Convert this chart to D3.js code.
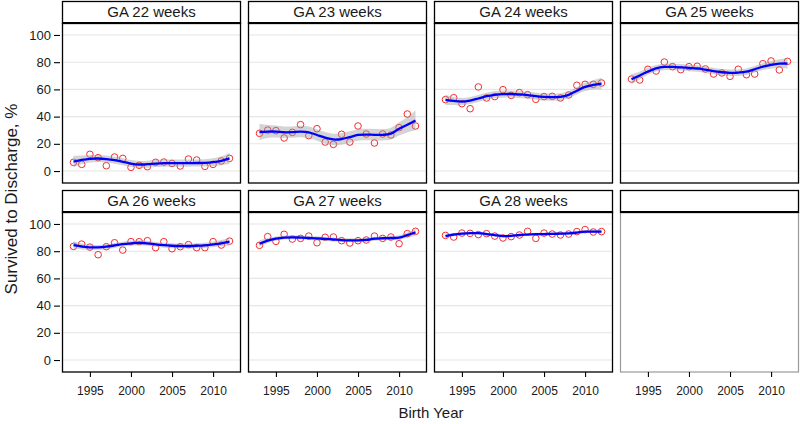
<!DOCTYPE html>
<html>
<head>
<meta charset="utf-8">
<script src="https://cdn.jsdelivr.net/npm/d3@7"></script>
<style>
  html, body { margin: 0; padding: 0; background: #fff; }
  svg { display: block; font-family: "Liberation Sans", Arial, Helvetica, sans-serif; }
</style>
</head>
<body>
<svg id="chart" width="800" height="424"></svg>
<script>
// ---------------- data ----------------
const years = [1993,1994,1995,1996,1997,1998,1999,2000,2001,2002,2003,2004,2005,2006,2007,2008,2009,2010,2011,2012];
const panels = ["GA 22 weeks","GA 23 weeks","GA 24 weeks","GA 25 weeks","GA 26 weeks","GA 27 weeks","GA 28 weeks"];
const yTicks = [0, 20, 40, 60, 80, 100];
const xTicks = [1995, 2000, 2005, 2010];
const xLabel = "Birth Year";
const yLabel = "Survived to Discharge, %";

// observed survival (%)
const obs22 = [6.4,4.9,12.3,9.8,3.9,10.3,9.3,2.7,4.2,3.2,6.4,6.6,5.6,3.7,8.8,8.1,3.4,4.9,7.4,9.3];
const obs23 = [27.7,30.1,29.7,24.3,28.4,34.1,26.0,31.1,21.3,19.6,27.0,21.3,33.1,27.2,20.6,27.2,26.5,31.9,41.9,33.1];
const obs24 = [52.5,53.9,49.5,45.8,61.8,53.7,54.7,59.8,55.6,57.6,56.1,52.7,54.7,54.9,53.7,55.9,63.0,63.7,63.7,64.7];
const obs25 = [67.6,66.9,74.8,73.5,80.1,76.7,74.5,76.7,77.0,75.0,71.3,72.1,69.6,74.8,70.8,71.3,78.9,80.9,74.3,80.6];
const obs26 = [83.5,85.2,83.0,77.4,83.3,86.2,80.8,87.0,87.0,87.7,82.6,87.0,81.8,83.3,84.8,82.6,82.6,87.0,84.5,87.4];
const obs27 = [84.3,90.7,87.2,92.4,88.9,89.4,91.1,86.2,90.2,90.4,87.7,86.0,87.7,88.2,91.1,89.4,90.4,85.5,92.9,94.6];
const obs28 = [91.6,90.4,93.3,93.1,92.2,92.9,91.1,89.7,90.7,91.9,94.6,89.4,93.3,92.6,91.9,92.6,94.4,95.9,94.1,94.4];

// smoothed fit (%)
const fit22 = [7.0,8.2,9.0,9.2,8.8,8.0,6.8,5.5,4.8,5.0,5.5,5.8,5.8,5.8,5.8,5.9,6.0,6.5,7.5,9.3];
const fit23 = [28.7,29.0,29.0,28.5,28.6,29.0,28.5,26.5,24.5,23.2,23.5,25.0,26.5,26.8,26.6,26.6,27.5,31.0,34.0,37.2];
const fit24 = [52.3,51.5,51.0,51.8,53.3,55.0,56.0,56.5,56.6,56.3,55.8,55.0,54.5,54.3,54.5,56.0,59.0,61.8,63.3,64.3];
const fit25 = [67.4,70.2,73.2,75.5,76.5,76.5,76.2,75.8,75.4,74.5,73.5,72.6,72.2,72.3,73.0,74.8,76.7,78.0,78.9,79.0];
const fit26 = [84.5,83.5,82.8,82.8,83.3,84.2,85.2,85.8,86.2,85.8,85.0,84.4,84.0,83.8,83.8,84.0,84.3,85.0,85.8,87.0];
const fit27 = [85.5,87.8,89.2,90.0,90.2,90.0,89.7,89.4,89.0,88.6,88.2,88.0,87.9,88.3,89.2,89.5,89.7,89.9,91.8,93.8];
const fit28 = [91.1,92.2,92.9,93.3,93.2,92.6,91.8,91.1,91.2,91.9,92.2,92.5,92.6,92.7,92.9,93.1,93.7,94.4,94.4,94.4];

// confidence band half-width (%)
const se22 = [4.2,3.2,2.8,2.6,2.6,2.6,2.6,2.6,2.6,2.6,2.6,2.6,2.6,2.6,2.6,2.6,2.6,2.8,3.2,4.2];
const se23 = [6.0,4.8,4.4,4.2,4.2,4.2,4.2,4.2,4.2,4.2,4.2,4.2,4.2,4.2,4.2,4.2,4.4,4.8,5.6,7.2];
const se24 = [3.8,3.0,2.7,2.6,2.6,2.6,2.6,2.6,2.6,2.6,2.6,2.6,2.6,2.6,2.6,2.6,2.7,3.0,3.4,4.2];
const se25 = [3.6,2.9,2.5,2.4,2.4,2.4,2.4,2.4,2.4,2.4,2.4,2.4,2.4,2.4,2.4,2.4,2.5,2.8,3.2,3.8];
const se26 = [2.8,2.2,1.9,1.8,1.8,1.8,1.8,1.8,1.8,1.8,1.8,1.8,1.8,1.8,1.8,1.8,1.9,2.1,2.4,2.9];
const se27 = [2.4,1.8,1.6,1.5,1.5,1.5,1.5,1.5,1.5,1.5,1.5,1.5,1.5,1.5,1.5,1.5,1.6,1.8,2.0,2.4];
const se28 = [1.5,1.2,1.1,1.0,1.0,1.0,1.0,1.0,1.0,1.0,1.0,1.0,1.0,1.0,1.0,1.0,1.1,1.2,1.3,1.6];

const obsAll = [obs22, obs23, obs24, obs25, obs26, obs27, obs28];
const fitAll = [fit22, fit23, fit24, fit25, fit26, fit27, fit28];
const seAll  = [se22, se23, se24, se25, se26, se27, se28];

// ---------------- layout ----------------
const svg = d3.select("#chart");
const colX = [62, 248, 434, 620];
const pW = 179;
const rowStripTop = [1, 190];
const stripH = 22;
const pH = 160;

const x = d3.scaleLinear().domain([1991.6, 2013.4]).range([0, pW]);
const y = d3.scaleLinear().domain([-8.8, 108.8]).range([pH, 0]);

const textCol = "#1a1a1a";

for (let i = 0; i < 8; i++) {
  const r = Math.floor(i / 4), c = i % 4;
  const px = colX[c];
  const sTop = rowStripTop[r];
  const pTop = sTop + stripH;
  const hasData = i < panels.length;

  // strip
  const sg = svg.append("g").attr("transform", `translate(${px},${sTop})`);
  sg.append("rect").attr("x", 0.5).attr("y", 0.5).attr("width", pW - 1).attr("height", stripH)
    .attr("fill", "#fff").attr("stroke", "#000").attr("stroke-width", 1.3);
  if (hasData) {
    sg.append("text").attr("x", pW / 2).attr("y", stripH / 2 + 1).attr("text-anchor", "middle")
      .attr("dominant-baseline", "middle").attr("font-size", 15).attr("fill", textCol)
      .text(panels[i]);
  }

  const g = svg.append("g").attr("transform", `translate(${px},${pTop})`);

  if (hasData) {
    // gridlines
    g.selectAll("line.grid").data(yTicks).enter().append("line")
      .attr("x1", 1).attr("x2", pW - 1)
      .attr("y1", d => y(d)).attr("y2", d => y(d))
      .attr("stroke", "#e6e6e6").attr("stroke-width", 1.1);

    const recs = years.map((yr, k) => ({ yr, v: obsAll[i][k], f: fitAll[i][k], s: seAll[i][k] }));

    // points
    g.selectAll("circle.pt").data(recs).enter().append("circle")
      .attr("cx", d => x(d.yr)).attr("cy", d => y(d.v)).attr("r", 3.3)
      .attr("fill", "none").attr("stroke", "#f03030").attr("stroke-width", 1);

    // band
    const area = d3.area().x(d => x(d.yr)).y0(d => y(d.f - d.s)).y1(d => y(d.f + d.s))
      .curve(d3.curveCatmullRom.alpha(0.5));
    g.append("path").datum(recs).attr("d", area).attr("fill", "#999").attr("fill-opacity", 0.42);

    // fit line
    const line = d3.line().x(d => x(d.yr)).y(d => y(d.f)).curve(d3.curveCatmullRom.alpha(0.5));
    g.append("path").datum(recs).attr("d", line).attr("fill", "none")
      .attr("stroke", "#0000ff").attr("stroke-width", 2.3);

    // panel border
    g.append("rect").attr("x", 0.5).attr("y", 0).attr("width", pW - 1).attr("height", pH)
      .attr("fill", "none").attr("stroke", "#000").attr("stroke-width", 1.3);
  } else {
    g.append("rect").attr("x", 0.5).attr("y", 0).attr("width", pW - 1).attr("height", pH)
      .attr("fill", "none").attr("stroke", "#999").attr("stroke-width", 1.2);
  }
  // thick strip/panel separator
  g.append("line").attr("x1", 0).attr("x2", pW).attr("y1", 0).attr("y2", 0)
    .attr("stroke", "#000").attr("stroke-width", 2.2);

  // y axis on first column
  if (c === 0) {
    const ax = g.append("g").call(d3.axisLeft(y).tickValues(yTicks).tickSize(6).tickPadding(3).tickSizeOuter(0));
    ax.select(".domain").remove();
    ax.selectAll("line").attr("stroke", "#000").attr("stroke-width", 1.1).attr("transform", "translate(-2,0)");
    ax.selectAll("text").attr("font-size", 13).attr("fill", textCol).attr("x", -11)
      .attr("font-family", "Liberation Sans, Arial, sans-serif");
  }
  // x axis on bottom row
  if (r === 1) {
    const ax = g.append("g").attr("transform", `translate(0,${pH})`)
      .call(d3.axisBottom(x).tickValues(xTicks).tickFormat(d3.format("d")).tickSize(5).tickPadding(9).tickSizeOuter(0));
    ax.select(".domain").remove();
    ax.selectAll("line").attr("stroke", "#000").attr("stroke-width", 1.1);
    ax.selectAll("text").attr("font-size", 12).attr("fill", textCol)
      .attr("font-family", "Liberation Sans, Arial, sans-serif");
  }
}

// axis titles
svg.append("text").attr("x", 431).attr("y", 418).attr("text-anchor", "middle")
  .attr("font-size", 15).attr("fill", textCol).text(xLabel);
svg.append("text").attr("transform", "translate(13,199) rotate(-90)")
  .attr("text-anchor", "middle").attr("dominant-baseline", "middle")
  .attr("font-size", 17).attr("fill", textCol).text(yLabel);
</script>
</body>
</html>
